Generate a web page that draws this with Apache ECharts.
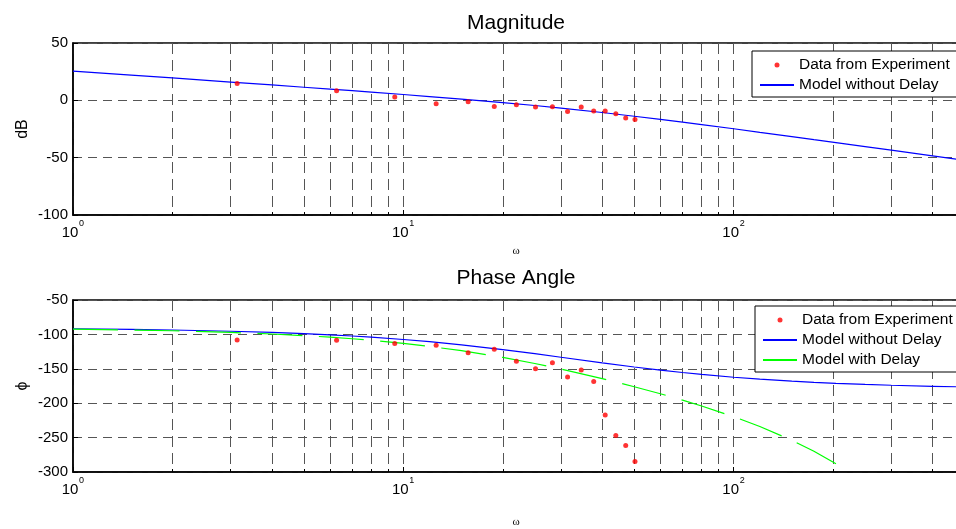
<!DOCTYPE html>
<html>
<head>
<meta charset="utf-8">
<script src="https://cdn.jsdelivr.net/npm/echarts@6/dist/echarts.min.js"></script>
<style>
html, body { margin: 0; padding: 0; background: #fff; }
#chart { width: 956px; height: 529px; }
</style>
</head>
<body>
<div id="chart"></div>
<script>
// model curves
const w = [1, 1.5, 2, 3, 4, 5, 6, 7, 8, 10, 12, 15, 20, 25, 30, 40, 50, 60, 70, 80, 100, 120, 150, 175, 204, 250, 300, 400, 500]
const magModel = [25.5, 22.0, 19.5, 15.9, 13.4, 11.4, 9.8, 8.4, 7.2, 5.1, 3.3, 1.1, -2.0, -4.5, -6.8, -10.6, -13.9, -16.6, -19.0, -21.2, -24.8, -27.9, -31.6, -34.3, -36.9, -40.4, -43.5, -48.5, -52.4]
const phaseModel = [-91.8, -92.7, -93.6, -95.4, -97.1, -98.9, -100.6, -102.3, -104.0, -107.4, -110.6, -115.1, -122.0, -128.0, -133.2, -141.3, -147.4, -151.9, -155.4, -158.2, -162.3, -165.1, -167.9, -169.6, -171.1, -172.7, -173.9, -175.4, -176.3]
const wDelay = [1, 1.5, 2, 3, 4, 5, 6, 7, 8, 10, 12, 15, 20, 25, 30, 40, 50, 60, 70, 80, 100, 120, 150, 175, 204]
const phaseDelay = [-92.4, -93.6, -94.7, -97.1, -99.4, -101.8, -104.0, -106.3, -108.6, -113.1, -117.5, -123.7, -133.5, -142.3, -150.4, -164.2, -176.1, -186.3, -195.5, -204.0, -219.6, -233.9, -253.9, -269.9, -288.0]

// experiment points
const wExp = [3.14, 6.28, 9.42, 12.57, 15.71, 18.85, 21.99, 25.13, 28.27, 31.42, 34.56, 37.70, 40.84, 43.98, 47.12, 50.27]
const magExp = [14.6, 8.3, 3.0, -3.0, -1.3, -5.4, -3.9, -5.9, -5.7, -9.8, -5.9, -9.4, -9.4, -11.8, -15.5, -16.7]
const phaseExp = [-108, -108.4, -113.3, -115.7, -126.8, -121.5, -138.9, -150, -141.3, -162, -151.9, -168.4, -217, -247, -261.6, -284.8]

// axis ticks
const xTicks = [1, 10, 100, 1000]
const magTicks = [-100, -50, 0, 50]
const phaseTicks = [-300, -250, -200, -150, -100, -50]

const font = '"Liberation Sans", Arial, sans-serif'
const zip = (xs, ys) => xs.map((x, i) => [x, ys[i]])

// main x axis: frame, ticks, grid lines and the "10" part of the labels
const xAxisBase = (idx, margin) => ({
    type: 'log',
    logBase: 10,
    gridIndex: idx,
    position: 'bottom',
    min: xTicks[0],
    max: xTicks[xTicks.length - 1],
    axisLine: { onZero: false, lineStyle: { color: '#000', width: 1.5 } },
    axisTick: { inside: true, length: 5, lineStyle: { color: '#000' } },
    minorTick: { show: true, splitNumber: 9, length: 3, lineStyle: { color: '#000' } },
    splitLine: { show: true, lineStyle: { color: '#555', type: [11, 6], width: 1 } },
    minorSplitLine: { show: true, lineStyle: { color: '#555', type: [11, 6], width: 1 } },
    axisLabel: {
        margin: margin,
        color: '#000',
        fontSize: 15,
        fontFamily: font,
        lineHeight: 15,
        padding: [0, 6, 0, 0],
        formatter: () => '10'
    }
})

// overlay x axis on the same grid that only prints the exponents
const xExpAxis = (idx, margin) => ({
    type: 'log',
    logBase: 10,
    gridIndex: idx,
    position: 'bottom',
    offset: 0,
    min: xTicks[0],
    max: xTicks[xTicks.length - 1],
    axisLine: { show: false },
    axisTick: { show: false },
    splitLine: { show: false },
    axisLabel: {
        margin: margin,
        color: '#000',
        fontSize: 9,
        fontFamily: font,
        lineHeight: 9,
        padding: [0, 0, 0, 17],
        formatter: v => String(Math.round(Math.log10(v)))
    }
})

const yAxisBase = (idx, ticks, name) => ({
    type: 'value',
    gridIndex: idx,
    min: ticks[0],
    max: ticks[ticks.length - 1],
    interval: 50,
    name: name,
    nameLocation: 'middle',
    nameGap: 42,
    nameMoveOverlap: false,
    nameTextStyle: { fontSize: 16, fontFamily: font, color: '#000' },
    axisLine: { show: true, onZero: false, lineStyle: { color: '#000', width: 1.5 } },
    axisTick: { show: true, inside: true, length: 5, lineStyle: { color: '#000' } },
    splitLine: { show: true, lineStyle: { color: '#555', type: [9, 6], width: 1 } },
    axisLabel: { fontSize: 15, fontFamily: font, color: '#000', margin: 5 }
})

// line entries hide the marker that the legend puts on line icons
const legendItem = name => name === 'Data from Experiment' ? { name: name } : { name: name, itemStyle: { opacity: 0 } }

const legendBase = (top, left, names) => ({
    orient: 'vertical',
    left: left,
    top: top,
    data: names.map(legendItem),
    selectedMode: false,
    itemWidth: 34,
    itemHeight: 5,
    itemGap: 4,
    padding: [6, 12, 4, 7],
    borderColor: '#000',
    borderWidth: 1,
    backgroundColor: '#fff',
    textStyle: { fontSize: 15.5, fontFamily: font, color: '#000', lineHeight: 14 }
})

const titleBase = (text, top, size, fam) => ({
    text: text,
    left: 516,
    top: top,
    textAlign: 'center',
    padding: 0,
    textStyle: { fontSize: size, fontWeight: 'normal', fontFamily: fam, color: '#000' }
})

const chart = echarts.init(document.getElementById('chart'))
chart.setOption({
    animation: false,
    backgroundColor: '#fff',
    title: [
        titleBase('Magnitude', 13, 21, font),
        titleBase('Phase Angle', 268, 21, font),
        titleBase('ω', 246, 11, '"Liberation Serif", serif'),
        titleBase('ω', 517, 11, '"Liberation Serif", serif')
    ],
    legend: [
        legendBase(51, 752, ['Data from Experiment', 'Model without Delay']),
        legendBase(306, 755, ['Data from Experiment', 'Model without Delay', 'Model with Delay'])
    ],
    grid: [
        { left: 73, top: 43, height: 172, right: -108, show: true, borderColor: '#000', borderWidth: 1.5, outerBoundsMode: 'none' },
        { left: 73, top: 300, height: 172, right: -108, show: true, borderColor: '#000', borderWidth: 1.5, outerBoundsMode: 'none' }
    ],
    xAxis: [xAxisBase(0, 10.7), xAxisBase(1, 10.5), xExpAxis(0, 4.2), xExpAxis(1, 4.2)],
    yAxis: [yAxisBase(0, magTicks, 'dB'), yAxisBase(1, phaseTicks, 'ϕ')],
    series: [
        {
            name: 'Data from Experiment', type: 'scatter', xAxisIndex: 0, yAxisIndex: 0,
            data: zip(wExp, magExp), symbolSize: 5, itemStyle: { color: '#ff0000' }, z: 5
        },
        {
            name: 'Model without Delay', type: 'line', xAxisIndex: 0, yAxisIndex: 0,
            data: zip(w, magModel), symbol: 'none', lineStyle: { color: '#0000ff', width: 1.2 }, itemStyle: { color: '#0000ff' }
        },
        {
            name: 'Data from Experiment', type: 'scatter', xAxisIndex: 1, yAxisIndex: 1,
            data: zip(wExp, phaseExp), symbolSize: 5, itemStyle: { color: '#ff0000' }, z: 5
        },
        {
            name: 'Model without Delay', type: 'line', xAxisIndex: 1, yAxisIndex: 1,
            data: zip(w, phaseModel), symbol: 'none', lineStyle: { color: '#0000ff', width: 1.2 }, itemStyle: { color: '#0000ff' }
        },
        {
            name: 'Model with Delay', type: 'line', xAxisIndex: 1, yAxisIndex: 1,
            data: zip(wDelay, phaseDelay), symbol: 'none',
            lineStyle: { color: '#00ff00', width: 1.2, type: [45, 16.5] }, itemStyle: { color: '#00ff00' }
        }
    ]
})
</script>
</body>
</html>
